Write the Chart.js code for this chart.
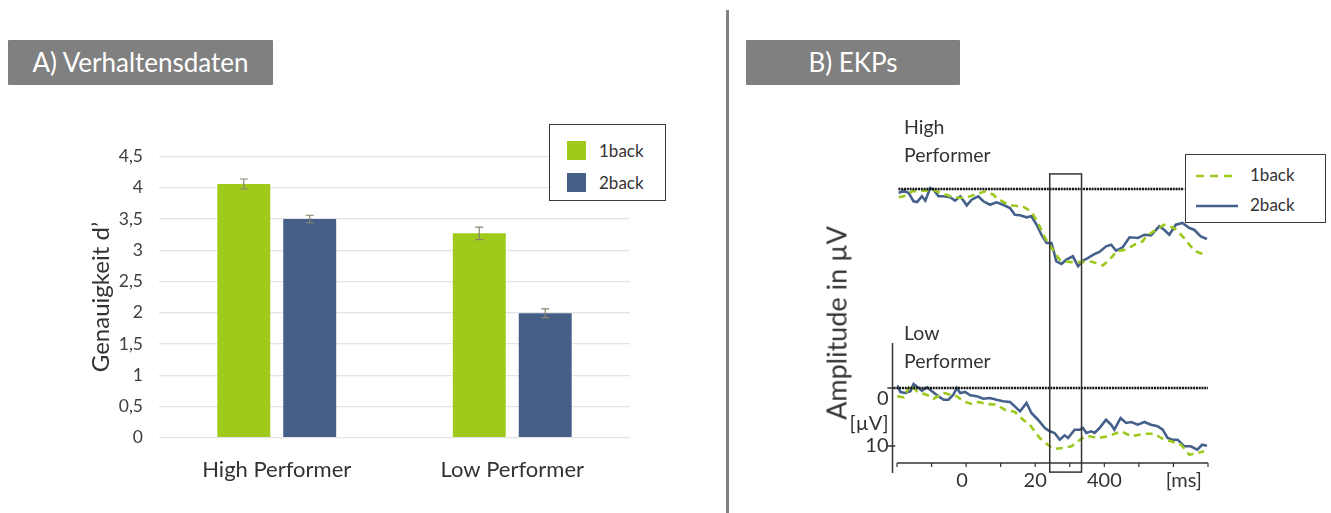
<!DOCTYPE html>
<html lang="de">
<head>
<meta charset="utf-8">
<title>Verhaltensdaten und EKPs</title>
<script src="https://cdn.jsdelivr.net/npm/chart.js@4/dist/chart.umd.min.js"></script>
<style>
  html, body { margin: 0; padding: 0; background: #fff; }
  body { width: 1331px; height: 513px; position: relative; overflow: hidden;
         font-family: "Lato", "Open Sans", sans-serif; color: #333; }
  .tag { position: absolute; top: 40px; height: 45px; background: #808080; color: #fff;
         font-size: 26px; line-height: 45px; text-align: center; border-radius: 1px; }
  .divider { position: absolute; left: 726px; top: 10px; width: 3px; height: 503px; background: #808080; }
  canvas { position: absolute; }
  .legend { position: absolute; box-sizing: border-box; border: 1.5px solid #3a3a3a; background: #fff; }
  .legend .item { position: absolute; font-size: 17px; line-height: 20px; color: #333; }
  .legend .swatch { position: absolute; width: 19px; height: 19px; }
  .legend svg { position: absolute; }
  .txt { position: absolute; font-size: 19.5px; line-height: 22px; color: #333; white-space: nowrap; }
  .ytitle { position: absolute; font-size: 27px; color: #333; white-space: nowrap;
            transform: translate(-50%, -50%) rotate(-90deg); }
</style>
</head>
<body>
<div class="tag" style="left:8px;width:265px;">A) Verhaltensdaten</div>
<div class="tag" style="left:746px;width:214px;">B) EKPs</div>
<div class="divider"></div>

<canvas id="bars" width="600" height="370" style="left:60px;top:130px;"></canvas>

<div class="legend" style="left:549px;top:124px;width:117px;height:77px;">
  <div class="swatch" style="left:17px;top:16px;background:#9fca1c;"></div>
  <div class="item" style="left:49px;top:16px;">1back</div>
  <div class="swatch" style="left:17px;top:48px;background:#465f89;"></div>
  <div class="item" style="left:49px;top:48px;">2back</div>
</div>

<canvas id="erp" width="591" height="413" style="left:740px;top:100px;"></canvas>

<div class="ytitle" style="left:836px;top:323px;">Amplitude in µV</div>
<div class="txt" style="left:904px;top:116px;">High</div>
<div class="txt" style="left:904px;top:144px;">Performer</div>
<div class="txt" style="left:904px;top:322px;">Low</div>
<div class="txt" style="left:904px;top:350px;">Performer</div>

<div class="legend" style="left:1185px;top:154px;width:141px;height:69px;">
  <svg width="50" height="60" style="left:8px;top:4px;">
    <line x1="2" y1="17" x2="44" y2="17" stroke="#9dc91f" stroke-width="2.5" stroke-dasharray="8,6"/>
    <line x1="2" y1="47" x2="44" y2="47" stroke="#46608c" stroke-width="2.5"/>
  </svg>
  <div class="item" style="left:64px;top:10px;">1back</div>
  <div class="item" style="left:64px;top:40px;">2back</div>
</div>

<script>
// ---- A) behavioural data: accuracy d' per group ----
const groups = ['High Performer', 'Low Performer'];
const oneBack = [4.06, 3.27];
const twoBack = [3.50, 1.99];
const oneBackErr = [0.08, 0.10];
const twoBackErr = [0.06, 0.07];
const accuracyMax = 4.5;
const accuracyStep = 0.5;

// ---- B) ERP grand averages (time in ms, amplitude in µV, positive down) ----
const highOneBackMs = [-195,-181,-156,-123,-95,-46,-17,12,55,79,88,122,151,165,189,207,228,248,271,300,329,362,396,424,434,463,487,511,521,550,573,602,631,650,669,686,697];
const highOneBackUv = [1.43,1.26,0.4,0.29,0.17,1.26,1.55,1.26,0.4,0.98,1.55,2.71,2.98,3.05,3.91,5.7,8.4,10.2,12.2,12.6,12.6,12.5,13.2,11.6,10.74,10.47,9.6,9.02,8.16,7.02,6.16,6.72,8.45,9.88,10.86,11.2,10.86];
const highTwoBackMs = [-195,-181,-166,-152,-142,-128,-118,-104,-94,-80,-65,-46,-32,-17,2,16,35,50,69,88,107,127,141,156,175,189,204,218,233,247,256,261,276,290,309,324,338,352,372,386,405,420,434,453,473,497,516,535,559,573,588,607,626,646,660,679,697];
const highTwoBackUv = [0.69,0.29,0.69,2.12,2.24,1.26,2.02,-0.17,0.12,1.26,1.26,1.43,2.02,1.26,2.81,1.84,1.26,2.12,2.71,2.29,2.71,3.28,4.43,4.53,4.88,4.71,6.16,7.88,9.31,9.31,11.3,12.47,12.93,12.19,11.6,13.33,12.36,11.9,11.2,10.86,9.88,9.6,10.64,10.05,8.33,8.45,7.88,7.98,6.43,7.02,7.88,6.16,5.86,6.72,7.02,8.16,8.62];
const lowOneBackMs = [-200,-181,-161,-142,-128,-104,-94,-65,-27,-8,16,35,60,88,112,141,165,184,213,242,256,280,305,324,343,357,381,410,449,478,516,545,573,593,622,646,669,689];
const lowOneBackUv = [1.43,1.6,-0.57,0.57,0.86,1.43,1.84,0.86,1.43,2.29,2.76,2.41,2.76,2.88,3.74,4.14,5.47,6.33,8.62,10.05,10.5,10.34,10.05,9.19,8.33,8.33,8.62,8.33,7.47,8.33,7.9,7.9,8.91,9.19,9.78,11.5,11.2,10.9];
const lowTwoBackMs = [-200,-190,-176,-161,-152,-137,-128,-113,-99,-80,-65,-51,-37,-27,-17,-3,12,31,50,69,88,107,127,141,156,175,189,208,228,242,256,271,285,295,314,329,338,348,362,372,386,405,420,429,447,463,478,497,516,535,554,569,583,597,612,631,650,669,683,697];
const lowTwoBackUv = [-0.47,0.69,0.86,0.57,-0.69,0,0.47,-0.12,0.57,1.43,2.02,2.02,1.16,0,0.86,0.69,1.26,1.43,1.84,1.72,2.02,2.29,2.41,3.16,4.02,2.59,4.31,5.47,6.9,7.47,7.76,8.91,8.16,8.62,7.19,7.19,6.9,7.76,7.47,7.76,6.9,5.47,6.33,7.19,5.17,6.03,5.86,6.33,5.86,6.33,6.6,7.19,8.62,8.91,8.91,10.05,10.05,10.64,9.78,9.95];

// time axis ticks and their printed labels (lower panel only)
const timeTicksMs = [-200,-100,0,100,200,300,400,500,600,700];
const timeLabels = [[0,'0'],[200,'20'],[400,'400'],[630,'[ms]']];
const ampLabels = [[0,'0',11],[6.2,'[µV]',0],[10,'10',0]];
const ampTicks = [0, 10];
const analysisWindowMs = [242, 334];

const GREEN = '#9fca1c', BLUE = '#465f89';
const LINE_GREEN = '#9dc91f', LINE_BLUE = '#46608c';
const FONT = '"Lato", "Open Sans", sans-serif';

// ---------- bar chart with error bars ----------
const errorBars = {
  id: 'errorBars',
  afterDatasetsDraw(chart) {
    const { ctx } = chart;
    const y = chart.scales.y;
    ctx.save();
    ctx.strokeStyle = '#8a836e';
    ctx.lineWidth = 1.2;
    chart.data.datasets.forEach((ds, i) => {
      chart.getDatasetMeta(i).data.forEach((bar, j) => {
        const v = ds.data[j], e = ds.errors[j];
        const top = y.getPixelForValue(v + e), bot = y.getPixelForValue(v - e);
        const cx = bar.x;
        ctx.beginPath();
        ctx.moveTo(cx, top); ctx.lineTo(cx, bot);
        ctx.moveTo(cx - 4, top); ctx.lineTo(cx + 4, top);
        ctx.moveTo(cx - 4, bot); ctx.lineTo(cx + 4, bot);
        ctx.stroke();
      });
    });
    ctx.restore();
  }
};

new Chart(document.getElementById('bars'), {
  type: 'bar',
  data: {
    labels: groups,
    datasets: [
      { label: '1back', data: oneBack, errors: oneBackErr, backgroundColor: GREEN },
      { label: '2back', data: twoBack, errors: twoBackErr, backgroundColor: BLUE }
    ]
  },
  options: {
    responsive: false,
    animation: false,
    events: [],
    layout: { padding: { top: 20.7, right: 30, left: 0, bottom: 0 } },
    datasets: { bar: { categoryPercentage: 0.56, barPercentage: 0.803 } },
    plugins: { legend: { display: false }, tooltip: { enabled: false } },
    scales: {
      x: {
        grid: { display: false, drawTicks: false },
        border: { display: false },
        ticks: { color: '#333', padding: 19, font: { family: FONT, size: 22 } },
        afterFit(s) { s.height = 62.3; }
      },
      y: {
        min: 0, max: accuracyMax,
        ticks: {
          stepSize: accuracyStep, color: '#404040', padding: 16,
          font: { family: FONT, size: 17.5 },
          callback: v => String(v).replace('.', ',')
        },
        grid: { color: '#e4e4e4', lineWidth: 1.2, drawTicks: false },
        border: { display: false },
        title: { display: true, text: 'Genauigkeit d\u2019', color: '#333',
                 font: { family: FONT, size: 24 }, padding: { top: 27, bottom: 0 } },
        afterFit(s) { s.width = 99; }
      }
    }
  },
  plugins: [errorBars]
});

// ---------- ERP panel ----------
const zip = (xs, ys) => xs.map((t, i) => ({ x: t, y: ys[i] }));

const erpDecor = {
  id: 'erpDecor',
  afterDatasetsDraw(chart) {
    const { ctx } = chart;
    const { x, yHigh, yLow } = chart.scales;
    const seg = (x1, y1, x2, y2) => { ctx.beginPath(); ctx.moveTo(x1, y1); ctx.lineTo(x2, y2); ctx.stroke(); };
    ctx.save();

    // zero lines (dotted)
    ctx.strokeStyle = '#111';
    ctx.lineWidth = 2.6;
    ctx.setLineDash([2, 0.8]);
    seg(x.getPixelForValue(-196), yHigh.getPixelForValue(0), x.getPixelForValue(631), yHigh.getPixelForValue(0));
    seg(x.getPixelForValue(-210), yLow.getPixelForValue(0), x.getPixelForValue(700), yLow.getPixelForValue(0));
    ctx.setLineDash([]);

    // lower panel axes
    ctx.strokeStyle = '#333';
    ctx.lineWidth = 1.5;
    const axX = x.getPixelForValue(-213);
    seg(axX, yLow.getPixelForValue(-7.76), axX, yLow.getPixelForValue(14.66));
    const axY = yLow.getPixelForValue(12.93);
    seg(x.getPixelForValue(-200), axY, x.getPixelForValue(700), axY);
    ctx.lineWidth = 1.2;
    timeTicksMs.forEach(t => seg(x.getPixelForValue(t), axY, x.getPixelForValue(t), axY + 4));
    ctx.lineWidth = 1.5;
    ampTicks.forEach(a => seg(x.getPixelForValue(-228), yLow.getPixelForValue(a), x.getPixelForValue(-205), yLow.getPixelForValue(a)));

    // labels
    ctx.fillStyle = '#333';
    ctx.font = `20px ${FONT}`;
    ctx.textBaseline = 'middle';
    ctx.textAlign = 'center';
    timeLabels.forEach(([t, s]) => ctx.fillText(s, x.getPixelForValue(t) - (t === 0 ? 4 : 0), axY + 18));
    ctx.textAlign = 'right';
    ampLabels.forEach(([a, s, dy]) => ctx.fillText(s, axX - 4, yLow.getPixelForValue(a) + dy));

    // analysis window spanning both panels
    ctx.strokeStyle = '#333';
    ctx.lineWidth = 1.5;
    const wx1 = x.getPixelForValue(analysisWindowMs[0]), wx2 = x.getPixelForValue(analysisWindowMs[1]);
    const wy1 = yHigh.getPixelForValue(-2.6), wy2 = yLow.getPixelForValue(14.5);
    ctx.strokeRect(wx1, wy1, wx2 - wx1, wy2 - wy1);
    ctx.restore();
  }
};

const lineStyle = (color, dashed) => ({
  borderColor: color, borderWidth: 2.6, borderDash: dashed ? [7, 5] : [],
  pointRadius: 0, fill: false, tension: 0, borderCapStyle: 'butt'
});

new Chart(document.getElementById('erp'), {
  type: 'line',
  data: {
    datasets: [
      { label: 'High 1back', data: zip(highOneBackMs, highOneBackUv), yAxisID: 'yHigh', ...lineStyle(LINE_GREEN, true) },
      { label: 'High 2back', data: zip(highTwoBackMs, highTwoBackUv), yAxisID: 'yHigh', ...lineStyle(LINE_BLUE, false) },
      { label: 'Low 1back', data: zip(lowOneBackMs, lowOneBackUv), yAxisID: 'yLow', ...lineStyle(LINE_GREEN, true) },
      { label: 'Low 2back', data: zip(lowTwoBackMs, lowTwoBackUv), yAxisID: 'yLow', ...lineStyle(LINE_BLUE, false) }
    ]
  },
  options: {
    responsive: false,
    animation: false,
    events: [],
    layout: { padding: { left: 157, right: 123, top: 50, bottom: 33 } },
    plugins: { legend: { display: false }, tooltip: { enabled: false } },
    scales: {
      x: { type: 'linear', min: -200, max: 700, display: false },
      yHigh: { type: 'linear', reverse: true, min: -6.724, max: 50.172, display: false },
      yLow: { type: 'linear', reverse: true, min: -41.034, max: 15.862, display: false }
    }
  },
  plugins: [erpDecor]
});
</script>
</body>
</html>
